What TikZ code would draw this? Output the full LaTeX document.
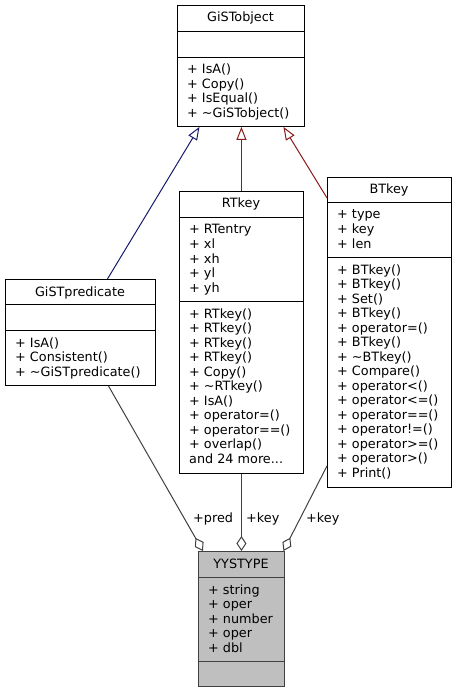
\documentclass[tikz,border=0pt]{standalone}
\usepackage{fontspec}
\setmainfont{DejaVu Sans}
\usepackage{xcolor}
\usetikzlibrary{arrows.meta,positioning,calc}
\definecolor{inhblue}{HTML}{191970}
\definecolor{inhred}{HTML}{8B1A1A}
\definecolor{usegray}{HTML}{404040}

\begin{document}
\begin{tikzpicture}[
  x=1pt, y=-1pt,
  font=\fontsize{12.8}{14.5}\selectfont,
  cls/.style={draw=black, line width=0.9pt, rectangle, inner sep=0pt, anchor=north west},
  cur/.style={cls, fill=gray!50, draw=usegray},
  rowline/.style={line width=0.9pt},
  title/.style={anchor=base, inner sep=0pt},
  member/.style={anchor=base west, inner sep=0pt},
  inherit/.style={-{Triangle[open, length=13pt, width=10pt]}, line width=1pt},
  usage/.style={-{Diamond[open, length=15pt, width=10pt]}, line width=1pt, draw=usegray},
  role/.style={anchor=base west, inner sep=0pt}
]
\useasboundingbox (0,0) rectangle (457,692);

% Class boxes
\node[cls, minimum width=127pt, minimum height=121pt] (gistobject) at (177,5) {};
\node[cls, minimum width=150pt, minimum height=106pt] (gistpredicate) at (5,279) {};
\node[cls, minimum width=124pt, minimum height=282pt] (rtkey) at (179,191) {};
\node[cls, minimum width=124pt, minimum height=310pt] (btkey) at (327,177) {};
\node[cur, minimum width=86pt, minimum height=135pt] (yystype) at (198,551) {};

% Compartment lines
\foreach \b/\s in {gistobject/26, gistobject/52, gistpredicate/25, gistpredicate/51,
                   rtkey/26, rtkey/110, btkey/25, btkey/80}
  \draw[rowline] ([yshift=-\s pt]\b.north west) -- ([yshift=-\s pt]\b.north east);
\foreach \s in {26, 110}
  \draw[rowline, usegray] ([yshift=-\s pt]yystype.north west) -- ([yshift=-\s pt]yystype.north east);

% Titles
\node[title] (gistobject-t) at (240.5,22) {GiSTobject};
\node[title] (gistpredicate-t) at (80,296) {GiSTpredicate};
\node[title] (rtkey-t) at (241,208) {RTkey};
\node[title] (btkey-t) at (389,194) {BTkey};
\node[title] (yystype-t) at (241,568) {YYSTYPE};

% Members
\foreach \m [count=\i from 0] in {+ IsA(), + Copy(), + IsEqual(), + \textasciitilde GiSTobject()}
  \node[member] (gistobject-m\i) at (187, 74+\i*14.5) {\m};
\foreach \m [count=\i from 0] in {+ IsA(), + Consistent(), + \textasciitilde GiSTpredicate()}
  \node[member] (gistpredicate-m\i) at (15, 347+\i*14.5) {\m};
\foreach \m [count=\i from 0] in {+ RTentry, + xl, + xh, + yl, + yh}
  \node[member] (rtkey-a\i) at (189, 234+\i*14.5) {\m};
\foreach \m [count=\i from 0] in {+ RTkey(), + RTkey(), + RTkey(), + RTkey(), + Copy(),
    + \textasciitilde RTkey(), + IsA(), + operator=(), + operator==(), + overlap(), and 24 more.{}.{}.}
  \node[member] (rtkey-m\i) at (189, 318+\i*14.5) {\m};
\foreach \m [count=\i from 0] in {+ type, + key, + len}
  \node[member] (btkey-a\i) at (337, 219+\i*14.5) {\m};
\foreach \m [count=\i from 0] in {+ BTkey(), + BTkey(), + Set(), + BTkey(), + operator=(),
    + BTkey(), + \textasciitilde BTkey(), + Compare(), + operator<(), + operator<=(),
    + operator==(), + operator!=(), + operator>=(), + operator>(), + Print()}
  \node[member] (btkey-m\i) at (337, 274+\i*14.5) {\m};
\foreach \m [count=\i from 0] in {+ string, + oper, + number, + oper, + dbl}
  \node[member] (yystype-a\i) at (208, 594+\i*14.5) {\m};

% Inheritance
\draw[inherit, inhblue] ([xshift=27pt]gistpredicate.north) -- ([xshift=-41.5pt]gistobject.south);
\draw[inherit, inhred] (rtkey.north) -- (rtkey.north |- gistobject.south);
\draw[inherit, inhred] ([yshift=-21pt]btkey.north west) -- ([xshift=42.5pt]gistobject.south);

% Usage
\draw[usage] ([xshift=28pt]gistpredicate.south) -- ([xshift=-38.5pt]yystype.north);
\draw[usage] (rtkey.south) -- (rtkey.south |- yystype.north);
\draw[usage] ([yshift=22pt]btkey.south west) -- ([xshift=42pt]yystype.north);

% Roles
\node[role] (role-pred) at (193,522) {+pred};
\node[role] (role-rtkey) at (246,522) {+key};
\node[role] (role-btkey) at (306,522) {+key};

\end{tikzpicture}
\end{document}
